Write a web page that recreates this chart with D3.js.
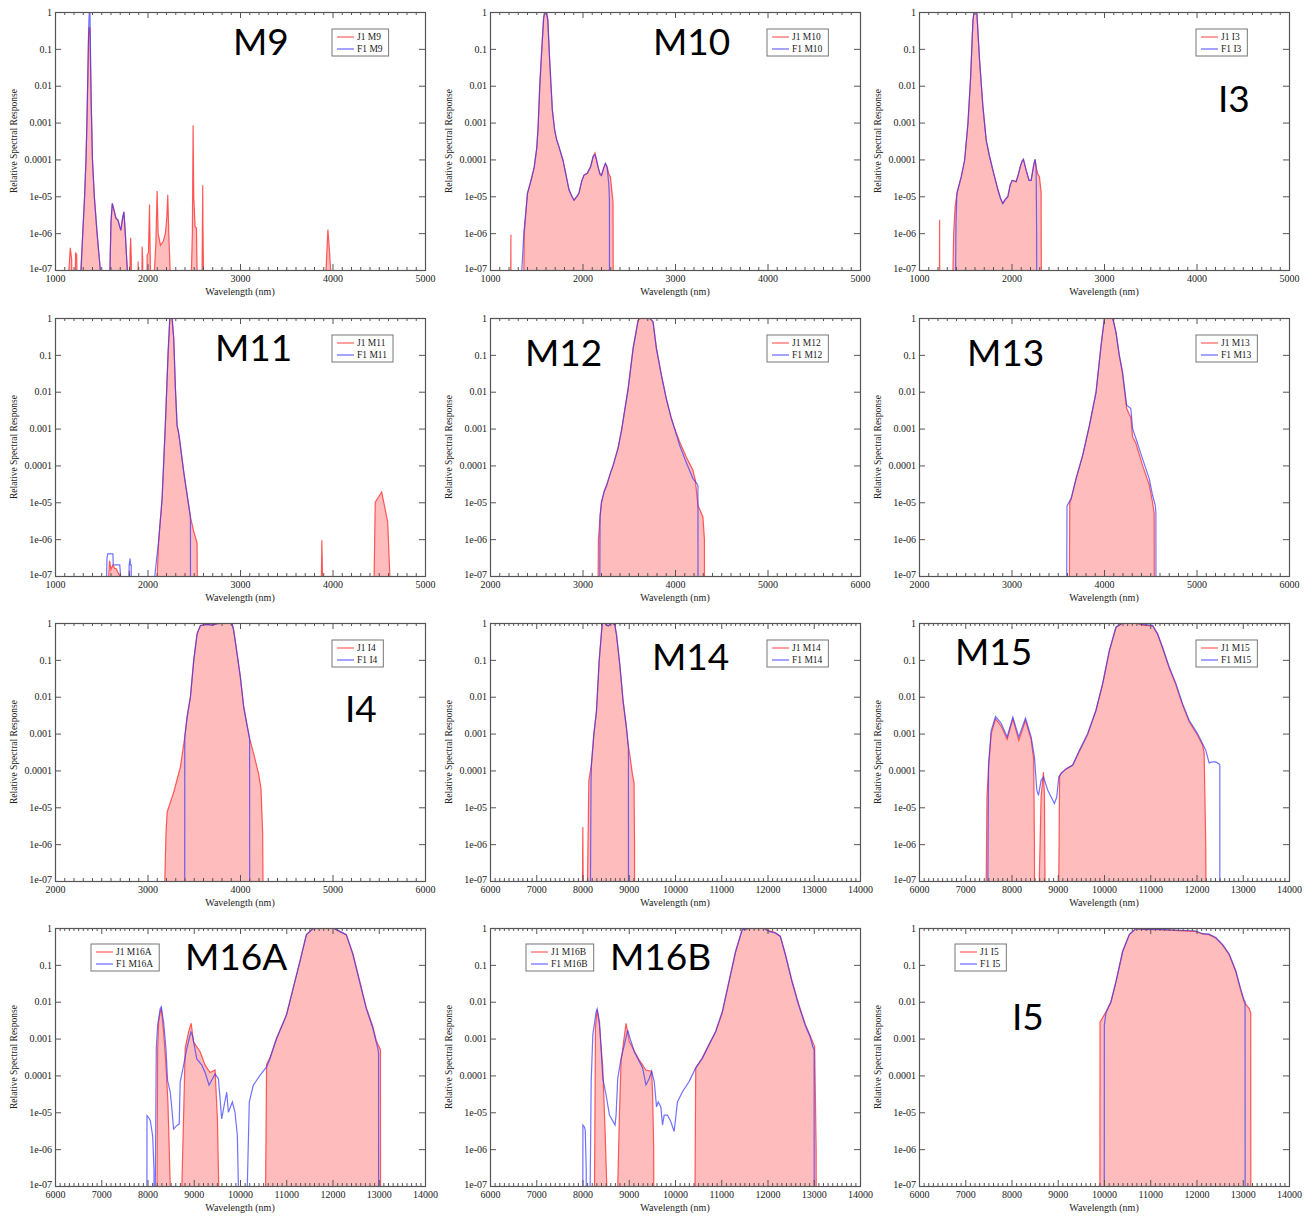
<!DOCTYPE html>
<html><head><meta charset="utf-8">
<script src="https://cdn.jsdelivr.net/npm/d3@7"></script>
<style>body{margin:0;background:#fff}</style>
</head><body><svg id="c" width="1314" height="1216"></svg>
<script>
// ---------------- DATA ----------------
const panelNames = ["M9","M10","I3","M11","M12","M13","I4","M14","M15","M16A","M16B","I5"];
const xRanges = [[1000,5000],[1000,5000],[1000,5000],[1000,5000],[2000,6000],[2000,6000],
                 [2000,6000],[6000,14000],[6000,14000],[6000,14000],[6000,14000],[6000,14000]];
const yTickValues = [1,0.1,0.01,0.001,0.0001,1e-5,1e-6,1e-7];
const yTickLabels = ["1","0.1","0.01","0.001","0.0001","1e-05","1e-06","1e-07"];
const xAxisTitle = "Wavelength (nm)";
const yAxisTitle = "Relative Spectral Response";

// M9
const j1_M9 = [[1140,1e-9],[1150,1e-7],[1165,4e-7],[1180,2e-7],[1190,1e-9],[1215,1e-9],[1222,3e-7],[1235,2.5e-7],[1245,1e-9],
  [1275,1e-9],[1282,1e-7],[1300,1e-6],[1320,1e-5],[1335,1e-4],[1345,1e-3],[1355,0.02],[1363,0.2],[1370,0.4],[1378,0.35],[1385,0.03],[1392,0.003],[1405,1e-4],[1425,1e-5],[1455,1e-6],[1490,1e-7],[1500,1e-9],
  [1585,1e-9],[1594,1e-7],[1605,2e-6],[1619,6.4e-6],[1640,4e-6],[1660,2.5e-6],[1680,2.3e-6],[1700,1.5e-6],[1712,1.2e-6],[1730,2.5e-6],[1745,3.8e-6],[1760,1e-6],[1775,2e-7],[1782,1e-7],[1790,1e-9],
  [1805,1e-9],[1812,3e-7],[1818,7.5e-7],[1825,2e-7],[1832,1e-9],[1893,1e-9],[1899,1.7e-7],[1905,1e-9],
  [1935,1e-9],[1942,4.3e-7],[1948,2e-7],[1953,1e-9],[1990,1e-9],[1996,2.5e-7],[2010,3e-7],[2022,6e-6],[2030,2e-7],[2038,1e-9],
  [2065,1e-9],[2075,1e-7],[2090,5e-7],[2104,1.4e-5],[2115,1e-6],[2140,4.7e-7],[2170,6e-7],[2194,1e-6],[2210,3e-6],[2219,1.1e-5],[2230,1e-6],[2245,1e-7],[2250,1e-9],
  [2468,1e-9],[2475,1e-7],[2485,1e-6],[2493,8.5e-4],[2500,1e-5],[2515,1.5e-6],[2529,1.4e-6],[2536,1e-7],[2540,1e-9],
  [2585,1e-9],[2590,1e-7],[2597,2e-5],[2600,1.4e-6],[2605,1e-7],[2610,1e-9],
  [3920,1e-9],[3930,1e-7],[3950,1.26e-6],[3965,4e-7],[3980,1e-7],[3990,1e-9]];
const f1_M9 = [[1270,1e-9],[1280,1e-7],[1300,1e-6],[1320,1e-5],[1335,1e-4],[1345,1e-3],[1355,0.02],[1363,0.3],[1370,1],[1378,1],[1385,0.05],[1392,0.003],[1405,1e-4],[1425,1e-5],[1455,1e-6],[1490,1e-7],[1500,1e-9],
  [1585,1e-9],[1594,1e-7],[1605,2e-6],[1619,6.4e-6],[1640,4e-6],[1660,2.5e-6],[1680,2.3e-6],[1700,1.5e-6],[1712,1.2e-6],[1730,2.5e-6],[1745,3.8e-6],[1760,1e-6],[1775,2e-7],[1782,1e-7],[1790,1e-9]];

// M10
const j1_M10 = [[1220,1e-9],[1224,1e-7],[1226,9e-7],[1228,1e-9],[1362,1e-9],[1366,1e-7],[1370,1e-6],[1405,1.2e-5],[1440,2.5e-5],[1477,6e-5],[1505,2e-4],[1520,7.6e-4],[1538,0.01],[1560,0.1],[1580,0.7],[1592,1],[1610,1],[1625,0.6],[1645,0.05],[1660,0.01],[1674,2.2e-3],[1700,6e-4],[1720,3.5e-4],[1746,2.2e-4],[1789,9.5e-5],[1820,4e-5],[1854,1.5e-5],[1885,1e-5],[1908,7.9e-6],[1940,1e-5],[1961,1.2e-5],[1990,2.5e-5],[2015,3.7e-5],[2051,4.2e-5],[2087,6.3e-5],[2115,1.2e-4],[2135,1.5e-4],[2150,1e-4],[2170,6e-5],[2190,4e-5],[2205,3.7e-5],[2230,6e-5],[2248,7.8e-5],[2266,6.3e-5],[2285,4e-5],[2302,3.4e-5],[2320,1.2e-5],[2330,7e-6],[2334,1e-9]];
const f1_M10 = [[1340,1e-9],[1344,1e-7],[1366,1e-6],[1405,1.2e-5],[1440,2.5e-5],[1477,6e-5],[1505,2e-4],[1520,7.6e-4],[1538,0.01],[1560,0.1],[1580,0.7],[1592,1],[1610,1],[1625,0.6],[1645,0.05],[1660,0.01],[1674,2.2e-3],[1700,6e-4],[1720,3.5e-4],[1746,2.2e-4],[1789,9.5e-5],[1820,4e-5],[1854,1.5e-5],[1885,1e-5],[1908,7.9e-6],[1940,1e-5],[1961,1.2e-5],[1990,2.5e-5],[2015,3.7e-5],[2051,4.2e-5],[2087,6.3e-5],[2115,1.2e-4],[2135,1.35e-4],[2150,1e-4],[2170,6e-5],[2190,4e-5],[2205,3.7e-5],[2230,6e-5],[2248,7.8e-5],[2266,6.3e-5],[2285,2e-5],[2291,8e-6],[2292,1e-9]];

// I3
const j1_I3 = [[1218,1e-9],[1221,1e-7],[1223,2.3e-6],[1225,1e-9],[1363,1e-9],[1367,1e-7],[1375,1e-6],[1390,5e-6],[1410,1.2e-5],[1457,3.4e-5],[1493,9.5e-5],[1529,9.4e-4],[1558,0.017],[1583,0.59],[1595,1],[1615,1],[1626,0.9],[1655,0.049],[1691,2.7e-3],[1727,3.3e-4],[1763,1.2e-4],[1800,5e-5],[1853,1.5e-5],[1880,9e-6],[1906,6.4e-6],[1930,8e-6],[1960,9.7e-6],[1985,2e-5],[2007,2.7e-5],[2030,2.6e-5],[2050,2.5e-5],[2075,4e-5],[2094,6.3e-5],[2115,9e-5],[2129,1e-4],[2145,7e-5],[2158,5.1e-5],[2190,2.7e-5],[2212,2.7e-5],[2240,7e-5],[2255,1e-4],[2266,6.3e-5],[2285,4e-5],[2302,3.4e-5],[2320,1.3e-5],[2325,1e-9]];
const f1_I3 = [[1392,1e-9],[1396,1e-7],[1400,2e-6],[1410,1.2e-5],[1457,3.4e-5],[1493,9.5e-5],[1529,9.4e-4],[1558,0.017],[1583,0.59],[1595,1],[1615,1],[1626,0.9],[1655,0.049],[1691,2.7e-3],[1727,3.3e-4],[1763,1.2e-4],[1800,5e-5],[1853,1.5e-5],[1880,9e-6],[1906,6.4e-6],[1930,8e-6],[1960,9.7e-6],[1985,2e-5],[2007,2.7e-5],[2030,2.6e-5],[2050,2.5e-5],[2075,4e-5],[2094,6.3e-5],[2115,9e-5],[2129,1e-4],[2145,7e-5],[2158,5.1e-5],[2190,2.7e-5],[2212,2.7e-5],[2240,7e-5],[2255,1e-4],[2266,6.3e-5],[2272,1e-6],[2273,1e-9]];

// M11
const j1_M11 = [[1575,1e-9],[1580,1e-7],[1590,2.6e-7],[1605,1.5e-7],[1625,2e-7],[1645,1.6e-7],[1660,1.6e-7],[1700,1e-7],[1705,1e-9],[1800,1e-9],[1805,1.4e-7],[1810,1e-9],
  [2100,1e-9],[2104,1e-7],[2122,1e-6],[2158,1.26e-5],[2194,1.5e-3],[2223,0.12],[2241,0.96],[2266,1],[2284,0.27],[2302,0.012],[2320,1.2e-3],[2335,8e-4],[2345,5.4e-4],[2392,6.6e-5],[2430,1.5e-5],[2464,4e-6],[2500,1.6e-6],[2536,8e-7],[2543,1e-9],
  [3875,1e-9],[3880,1e-7],[3885,9.3e-7],[3892,1e-7],[3895,1e-9],
  [4440,1e-9],[4450,1e-7],[4462,1e-5],[4532,1.9e-5],[4597,2.9e-6],[4620,1e-7],[4625,1e-9]];
const f1_M11 = [[1550,1e-9],[1558,1e-7],[1562,3e-7],[1570,4e-7],[1626,4e-7],[1630,2e-7],[1700,2e-7],[1709,1e-7],[1712,1e-9],[1795,1e-9],[1799,1e-7],[1802,2e-7],[1812,3e-7],[1815,2e-7],[1824,2e-7],[1826,1e-9],
  [2075,1e-9],[2079,1e-7],[2122,1e-6],[2158,1.26e-5],[2194,1.5e-3],[2223,0.12],[2241,0.96],[2266,1],[2284,0.27],[2302,0.012],[2320,1.2e-3],[2335,8e-4],[2345,5.4e-4],[2392,6.6e-5],[2430,1.5e-5],[2464,4e-6],[2466,1e-9]];

// M12
const j1_M12 = [[3165,1e-9],[3169,1e-7],[3172,1e-6],[3190,4e-6],[3205,1e-5],[3235,2e-5],[3259,2.8e-5],[3300,6e-5],[3331,1e-4],[3385,3e-4],[3425,1e-3],[3450,2.5e-3],[3493,0.012],[3547,0.15],[3601,0.86],[3620,1],[3727,1],[3763,0.78],[3799,0.15],[3853,0.028],[3906,6.5e-3],[3960,1.9e-3],[3996,1e-3],[4050,4.4e-4],[4122,1.7e-4],[4194,7.4e-5],[4220,4e-5],[4248,8.3e-6],[4302,4e-6],[4318,1e-6],[4320,1e-9]];
const f1_M12 = [[3183,1e-9],[3187,1e-7],[3190,4.4e-6],[3205,1e-5],[3235,2e-5],[3259,2.8e-5],[3300,6e-5],[3331,1e-4],[3385,3e-4],[3425,1e-3],[3450,2.5e-3],[3493,0.012],[3547,0.15],[3601,0.86],[3620,1],[3727,1],[3763,0.78],[3799,0.15],[3853,0.028],[3906,6.5e-3],[3960,1.9e-3],[3996,1e-3],[4050,3.5e-4],[4122,1.2e-4],[4194,4.4e-5],[4237,3.2e-5],[4248,2.8e-5],[4249,1e-9]];

// M13
const j1_M13 = [[3622,1e-9],[3626,1e-7],[3630,1e-5],[3644,1.2e-5],[3698,4.4e-5],[3770,1.9e-4],[3842,1.2e-3],[3914,9.8e-3],[3968,0.18],[4004,0.96],[4030,1],[4094,1],[4129,0.42],[4165,0.098],[4201,0.03],[4245,3.5e-3],[4290,2e-3],[4309,6e-4],[4345,4e-4],[4417,1e-4],[4489,3e-5],[4525,1e-5],[4543,5e-6],[4545,1e-9]];
const f1_M13 = [[3593,1e-9],[3597,1e-7],[3600,8e-6],[3644,1.26e-5],[3698,4.4e-5],[3770,1.9e-4],[3842,1.2e-3],[3914,9.8e-3],[3968,0.18],[4004,0.96],[4030,1],[4094,1],[4129,0.42],[4165,0.098],[4201,0.034],[4245,4.3e-3],[4290,3.5e-3],[4309,1e-3],[4345,5.4e-4],[4417,1.5e-4],[4489,4.4e-5],[4525,1.55e-5],[4554,8.3e-6],[4561,5e-6],[4562,1e-9]];

// I4
const j1_I4 = [[3183,1e-9],[3187,1e-7],[3200,2e-6],[3212,7.4e-6],[3284,2.6e-5],[3356,1.25e-4],[3403,8.1e-4],[3428,2.8e-3],[3464,9.8e-3],[3500,0.098],[3536,0.51],[3572,0.86],[3644,0.92],[3700,0.88],[3752,0.96],[3860,1],[3914,0.96],[3932,0.63],[3968,0.15],[4004,0.034],[4040,5.3e-3],[4076,1.7e-3],[4104,7.3e-4],[4147,2.9e-4],[4201,8.2e-5],[4227,3.2e-5],[4245,2e-6],[4255,1e-9]];
const f1_I4 = [[3402,1e-9],[3403,8.1e-4],[3428,2.8e-3],[3464,9.8e-3],[3500,0.098],[3536,0.51],[3572,0.86],[3644,0.92],[3700,0.88],[3752,0.96],[3860,1],[3914,0.96],[3932,0.63],[3968,0.15],[4004,0.034],[4040,5.3e-3],[4076,1.7e-3],[4104,7.3e-4],[4105,1e-9]];

// M14
const j1_M14 = [[7995,1e-9],[8000,1e-7],[8007,2.9e-6],[8015,1e-7],[8022,1e-9],[8104,1e-9],[8108,1e-7],[8137,5.2e-5],[8194,1.5e-4],[8245,9.5e-4],[8302,4.1e-3],[8360,0.093],[8424,0.92],[8440,1],[8482,1],[8554,0.83],[8626,1],[8698,0.92],[8734,0.49],[8806,0.076],[8878,7.6e-3],[8950,1.45e-3],[8986,5.1e-4],[9022,2.7e-4],[9079,7.9e-5],[9115,4.7e-5],[9125,1e-6],[9129,1e-9]];
const f1_M14 = [[8170,1e-9],[8173,1e-7],[8185,5e-5],[8194,1.5e-4],[8245,9.5e-4],[8302,4.1e-3],[8360,0.093],[8424,0.92],[8440,1],[8482,1],[8554,0.83],[8626,1],[8698,0.92],[8734,0.49],[8806,0.076],[8878,7.6e-3],[8950,1.45e-3],[8986,5.1e-4],[8993,4e-4],[8994,1e-9]];

// M15
const j1_M15 = [[7449,1e-9],[7453,1e-7],[7470,2e-5],[7504,1.2e-4],[7561,1e-3],[7655,2.5e-3],[7777,1.6e-3],[7906,7e-4],[8029,2.5e-3],[8158,6.5e-4],[8302,2.3e-3],[8424,7e-4],[8480,2e-4],[8496,1e-6],[8500,1e-9],
  [8595,1e-9],[8600,1e-7],[8640,2e-5],[8691,9e-5],[8712,2e-5],[8725,1e-7],[8730,1e-9],
  [9018,1e-9],[9022,1e-7],[9040,7e-5],[9072,8.5e-5],[9180,1.1e-4],[9324,1.4e-4],[9468,3.3e-4],[9647,9.5e-4],[9827,4.3e-3],[9971,0.022],[10115,0.17],[10259,0.75],[10403,1],[10691,1],[10835,0.88],[11050,0.84],[11158,0.5],[11266,0.21],[11410,0.06],[11554,0.021],[11698,6e-3],[11842,2.1e-3],[12022,9e-4],[12129,5e-4],[12165,3e-4],[12200,1e-6],[12216,1e-9]];
const f1_M15 = [[7485,1e-9],[7489,1e-7],[7504,1.5e-4],[7561,1.2e-3],[7655,2.9e-3],[7777,1.9e-3],[7906,8.1e-4],[8029,2.8e-3],[8158,8.1e-4],[8302,2.6e-3],[8424,8.1e-4],[8496,2.3e-4],[8547,2.9e-5],[8583,2.1e-5],[8640,5.4e-5],[8691,6.6e-5],[8784,2.9e-5],[8928,1.26e-5],[8978,1.9e-5],[9022,6.6e-5],[9072,8.2e-5],[9180,1.1e-4],[9324,1.4e-4],[9468,3.5e-4],[9647,1e-3],[9827,4.3e-3],[9971,0.023],[10115,0.18],[10259,0.78],[10403,1],[10691,1],[10835,0.92],[11050,0.86],[11158,0.51],[11266,0.22],[11410,0.064],[11554,0.023],[11698,6.5e-3],[11842,2.3e-3],[12022,1e-3],[12129,5.4e-4],[12201,3.5e-4],[12273,1.6e-4],[12345,1.7e-4],[12417,1.7e-4],[12489,1.5e-4],[12504,1.4e-4],[12505,1e-9]];

// M16A
const j1_M16A = [[8201,1e-9],[8205,1e-7],[8219,5e-4],[8241,2.8e-3],[8276,5.3e-3],[8298,6.6e-3],[8348,1.5e-3],[8399,1.9e-4],[8442,1.9e-5],[8470,1e-6],[8492,1e-7],[8495,1e-9],
  [8740,1e-9],[8743,1e-7],[8779,6.6e-6],[8815,5.4e-4],[8887,1.5e-3],[8944,2.6e-3],[8995,8.1e-4],[9138,4.4e-4],[9246,1.9e-4],[9354,1.2e-4],[9461,1.4e-4],[9512,6.6e-6],[9540,1e-7],[9543,1e-9],
  [10550,1e-9],[10553,1e-7],[10575,2e-4],[10646,3e-4],[10790,1e-3],[11005,4.4e-3],[11149,0.023],[11293,0.12],[11436,0.66],[11580,0.96],[11795,1],[12011,1],[12154,0.81],[12298,0.66],[12442,0.2],[12585,0.038],[12729,7e-3],[12873,2.1e-3],[12944,9e-4],[12980,7e-4],[13037,5e-4],[13040,1e-9]];
const f1_M16A = [[7985,1e-9],[7989,8.1e-6],[8030,7e-6],[8061,5.9e-6],[8111,2.3e-6],[8140,3e-7],[8147,1e-9],[8165,1e-9],[8169,1e-7],[8190,5.4e-4],[8219,2.3e-3],[8276,6.6e-3],[8298,7.3e-3],[8348,2.8e-3],[8399,5.4e-4],[8434,7.3e-5],[8492,3.5e-5],[8528,1.2e-5],[8564,3.5e-6],[8636,4.4e-6],[8686,4.8e-6],[8707,6.6e-5],[8765,1.5e-4],[8851,5.4e-4],[8937,1.5e-3],[8973,1.2e-3],[9066,2.8e-4],[9174,1.9e-4],[9246,1.2e-4],[9332,5.4e-5],[9368,6.6e-5],[9461,1.1e-4],[9533,8.1e-5],[9605,6.6e-6],[9655,1.5e-5],[9713,3.5e-5],[9749,1e-5],[9835,1.9e-5],[9892,1e-5],[9943,2.3e-6],[9965,1e-7],[9971,1e-9],
  [10155,1e-9],[10158,1e-7],[10201,1.9e-5],[10287,5.4e-5],[10431,1e-4],[10575,1.7e-4],[10646,2.8e-4],[10790,1e-3],[11005,4.4e-3],[11149,0.023],[11293,0.12],[11436,0.66],[11580,0.96],[11795,1],[12011,1],[12154,0.81],[12298,0.66],[12442,0.19],[12585,0.035],[12729,6.6e-3],[12873,1.9e-3],[12944,8.1e-4],[12980,5.4e-4],[12995,4e-4],[12997,1e-9]];

// M16B
const j1_M16B = [[8257,1e-9],[8260,1e-7],[8280,2e-3],[8317,6e-3],[8367,2.3e-3],[8439,1.6e-4],[8489,3e-6],[8525,1e-7],[8528,1e-9],
  [8759,1e-9],[8762,1e-7],[8800,1e-5],[8834,2.4e-4],[8941,2.6e-3],[9013,8.3e-4],[9120,4.6e-4],[9228,2.6e-4],[9372,1.4e-4],[9494,1.3e-4],[9515,3.6e-5],[9540,1e-6],[9544,1e-9],
  [10430,1e-9],[10433,1e-7],[10448,1.6e-4],[10591,3e-4],[10735,7e-4],[10878,1.5e-3],[11022,5e-3],[11165,0.033],[11309,0.22],[11452,0.9],[11667,1],[11918,1],[12026,0.85],[12169,0.75],[12277,0.6],[12385,0.2],[12528,0.038],[12671,9e-3],[12815,2.5e-3],[12923,1.2e-3],[12980,8e-4],[13020,6e-4],[13052,1e-6],[13055,1e-9]];
const f1_M16B = [[8005,1e-9],[8009,4.5e-6],[8040,4e-6],[8059,3.3e-6],[8080,3e-7],[8088,1e-9],[8163,1e-9],[8166,1e-7],[8188,6.8e-5],[8224,1.3e-3],[8296,5.4e-3],[8317,6.4e-3],[8367,2.9e-3],[8439,8.3e-5],[8511,2.9e-5],[8583,8.4e-6],[8704,4.5e-6],[8726,8.4e-6],[8762,8.3e-5],[8834,2.9e-4],[8905,6.7e-4],[8977,1.7e-3],[9049,8.3e-4],[9120,4.4e-4],[9228,2.4e-4],[9300,1.6e-4],[9372,5.5e-5],[9443,8.3e-5],[9494,1.3e-4],[9551,6.8e-5],[9601,1.4e-5],[9637,1.9e-5],[9694,1.4e-5],[9730,4.5e-6],[9766,8.4e-6],[9838,8.4e-6],[9910,5.5e-6],[9982,3e-6],[10053,1.9e-5],[10161,3.6e-5],[10304,6.8e-5],[10448,1.6e-4],[10591,2.9e-4],[10735,6.7e-4],[10878,1.55e-3],[11022,5.4e-3],[11165,0.035],[11309,0.23],[11452,0.9],[11667,1],[11918,1],[12026,0.81],[12169,0.73],[12277,0.59],[12385,0.19],[12528,0.035],[12671,8.2e-3],[12815,2.3e-3],[12923,1.1e-3],[12980,6e-4],[13008,5e-4],[13010,1e-9]];

// I5
const j1_I5 = [[9910,1e-9],[9914,2.8e-3],[10043,5.3e-3],[10151,1e-2],[10259,0.035],[10403,0.23],[10547,0.66],[10691,0.96],[10906,0.9],[11194,0.9],[11626,0.85],[11986,0.81],[12129,0.69],[12273,0.66],[12417,0.53],[12561,0.35],[12705,0.19],[12849,0.066],[12957,0.02],[13029,0.01],[13101,7.5e-3],[13137,6.6e-3],[13173,5e-3],[13175,1e-9]];
const f1_I5 = [[10005,1e-9],[10007,2.3e-3],[10043,5e-3],[10151,1e-2],[10259,0.035],[10403,0.23],[10547,0.66],[10691,0.96],[10906,0.92],[11194,0.92],[11626,0.87],[11986,0.83],[12129,0.7],[12273,0.68],[12417,0.55],[12561,0.36],[12705,0.2],[12849,0.07],[12957,0.022],[13029,0.011],[13050,0.01],[13052,1e-9]];

const seriesJ1 = [j1_M9,j1_M10,j1_I3,j1_M11,j1_M12,j1_M13,j1_I4,j1_M14,j1_M15,j1_M16A,j1_M16B,j1_I5];
const seriesF1 = [f1_M9,f1_M10,f1_I3,f1_M11,f1_M12,f1_M13,f1_I4,f1_M14,f1_M15,f1_M16A,f1_M16B,f1_I5];

// ---------------- LAYOUT / STYLE ----------------
const colLeft = [55, 490, 919], rowTop = [12, 318, 623, 928];
const PW = 370, PH = 258;
const labelOffset = [[178,43],[163,43],[299,100],[160,43],[35,48],[48,48],[290,99],[162,47],[36,42],[130,42],[120,42],[93,102]];
const legendLeftSide = [false,false,false,false,false,false,false,false,false,true,true,true];
const C = {fill:"#ffbcbc", red:"#ff2a2a", blue:"#3434ff", axis:"#555", text:"#222"};
const serif = "'Liberation Serif','DejaVu Serif',serif";

const svg = d3.select("#c");
svg.append("rect").attr("width",1314).attr("height",1216).attr("fill","#fff");

panelNames.forEach((name, i) => {
  const left = colLeft[i % 3], top = rowTop[Math.floor(i / 3)];
  const g = svg.append("g");
  const x = d3.scaleLinear().domain(xRanges[i]).range([left, left + PW]);
  const y = d3.scaleLog().domain([1e-7, 1]).range([top + PH, top]);

  const clipId = "clip" + i;
  svg.append("clipPath").attr("id", clipId).append("rect")
    .attr("x", left).attr("y", top).attr("width", PW).attr("height", PH);

  const plot = g.append("g").attr("clip-path", `url(#${clipId})`);
  const area = d3.area().x(d => x(d[0])).y0(top + PH).y1(d => y(d[1]));
  const line = d3.line().x(d => x(d[0])).y(d => y(d[1]));

  plot.append("path").datum(seriesJ1[i]).attr("d", area).attr("fill", C.fill);
  plot.append("path").datum(seriesJ1[i]).attr("d", line).attr("fill", "none")
    .attr("stroke", C.red).attr("stroke-opacity", 0.75).attr("stroke-width", 1.2);
  plot.append("path").datum(seriesF1[i]).attr("d", line).attr("fill", "none")
    .attr("stroke", C.blue).attr("stroke-opacity", 0.7).attr("stroke-width", 1.2);

  // axes
  const [x0, x1] = xRanges[i];
  const majors = d3.range(x0, x1 + 1, 1000);
  const minors = d3.range(x0, x1 + 1, 100).filter(v => v % 1000 !== 0);

  const styleAxis = sel => {
    sel.select(".domain").remove();
    sel.selectAll("line").attr("stroke", C.axis);
    sel.selectAll("text").attr("font-family", serif).attr("font-size", 10).attr("fill", C.text);
  };

  g.append("g").attr("transform", `translate(0,${top + PH})`)
    .call(d3.axisBottom(x).tickValues(majors).tickSize(-6).tickPadding(5).tickFormat(d3.format("d"))).call(styleAxis);
  g.append("g").attr("transform", `translate(0,${top + PH})`)
    .call(d3.axisBottom(x).tickValues(minors).tickSize(-3).tickFormat("")).call(styleAxis);
  g.append("g").attr("transform", `translate(0,${top})`)
    .call(d3.axisTop(x).tickValues(majors).tickSize(-6).tickFormat("")).call(styleAxis);
  g.append("g").attr("transform", `translate(0,${top})`)
    .call(d3.axisTop(x).tickValues(minors).tickSize(-3).tickFormat("")).call(styleAxis);
  const yl = g.append("g").attr("transform", `translate(${left},0)`)
    .call(d3.axisLeft(y).tickValues(yTickValues).tickSize(-6).tickPadding(3)
      .tickFormat((d, k) => yTickLabels[k])).call(styleAxis);
  // nudge lowest y label up a little so it does not sit on the first x label
  yl.selectAll(".tick").filter(d => d === 1e-7).select("text").attr("dy", "0.1em");
  g.append("g").attr("transform", `translate(${left + PW},0)`)
    .call(d3.axisRight(y).tickValues(yTickValues).tickSize(-6).tickFormat("")).call(styleAxis);

  g.append("rect").attr("x", left + 0.5).attr("y", top + 0.5).attr("width", PW).attr("height", PH)
    .attr("fill", "none").attr("stroke", C.axis).attr("stroke-width", 1.2);

  // axis titles
  g.append("text").attr("x", left + PW / 2).attr("y", top + PH + 25).attr("text-anchor", "middle")
    .attr("font-family", serif).attr("font-size", 10).attr("fill", C.text).text(xAxisTitle);
  g.append("text").attr("transform", `translate(${left - 38},${top + PH / 2}) rotate(-90)`)
    .attr("text-anchor", "middle").attr("font-family", serif).attr("font-size", 9.5)
    .attr("fill", C.text).text(yAxisTitle);

  // legend
  const lx = legendLeftSide[i] ? left + 36 : left + 277;
  const ly = legendLeftSide[i] ? top + 16 : top + 17;
  const lg = g.append("g");
  const box = lg.append("rect").attr("x", lx).attr("y", ly).attr("height", 27)
    .attr("fill", "#fff").attr("stroke", "#777").attr("stroke-width", 1);
  const entries = [["J1 " + name, C.red], ["F1 " + name, C.blue]];
  let maxW = 0;
  entries.forEach((e, k) => {
    const cy = ly + 8 + k * 12;
    lg.append("line").attr("x1", lx + 5).attr("x2", lx + 22).attr("y1", cy).attr("y2", cy)
      .attr("stroke", e[1]).attr("stroke-opacity", 0.75).attr("stroke-width", 1.2);
    const t = lg.append("text").attr("x", lx + 25).attr("y", cy + 3.2)
      .attr("font-family", serif).attr("font-size", 9.5).attr("fill", C.text).text(e[0]);
    maxW = Math.max(maxW, t.node().getComputedTextLength());
  });
  box.attr("width", 25 + maxW + 6);

  // big band label
  g.append("text").attr("x", left + labelOffset[i][0]).attr("y", top + labelOffset[i][1])
    .attr("font-family", "Lato, 'Open Sans', sans-serif").attr("font-size", 37).attr("fill", "#000")
    .text(name);
});
</script>
</body></html>
